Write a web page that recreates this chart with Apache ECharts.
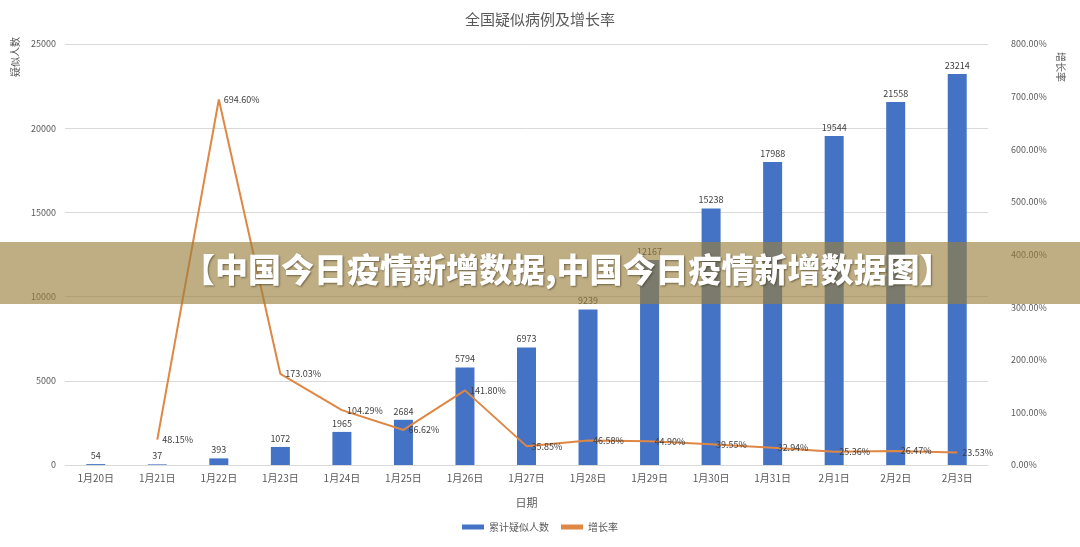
<!DOCTYPE html>
<html>
<head>
<meta charset="utf-8">
<script src="https://cdn.jsdelivr.net/npm/echarts@6/dist/echarts.min.js"></script>
<style>
  html, body { margin: 0; padding: 0; background: #fff; }
  #chart { width: 1080px; height: 547px; }
</style>
</head>
<body>
<div id="chart"></div>
<script>
// 日期
var dates = ['1月20日', '1月21日', '1月22日', '1月23日', '1月24日', '1月25日', '1月26日', '1月27日',
  '1月28日', '1月29日', '1月30日', '1月31日', '2月1日', '2月2日', '2月3日']
// 累计疑似人数
var suspected = [54, 37, 393, 1072, 1965, 2684, 5794, 6973, 9239, 12167, 15238, 17988, 19544, 21558, 23214]
// 增长率 (%)
var growth = [null, 48.15, 694.60, 173.03, 104.29, 66.62, 141.80, 35.85, 46.58, 44.90, 39.55, 32.94, 25.36, 26.47, 23.53]

var font = '"Noto Sans CJK SC", "Noto Sans", sans-serif'
var chart = echarts.init(document.getElementById('chart'))

chart.setOption({
  textStyle: { fontFamily: font },
  title: {
    text: '全国疑似病例及增长率',
    left: 'center',
    top: 7,
    textStyle: { fontSize: 15, fontWeight: 'normal', color: '#595959', fontFamily: font }
  },
  legend: {
    bottom: 10,
    left: 'center',
    itemWidth: 22,
    itemHeight: 5,
    itemGap: 12,
    textStyle: { fontSize: 10, color: '#595959' },
    data: [
      { name: '累计疑似人数', icon: 'rect' },
      { name: '增长率', icon: 'rect' }
    ]
  },
  grid: { left: 65, right: 92, top: 44, bottom: 82 },
  xAxis: {
    type: 'category',
    data: dates,
    name: '日期',
    nameLocation: 'middle',
    nameGap: 32,
    nameTextStyle: { fontSize: 11, color: '#595959' },
    axisLine: { lineStyle: { color: '#d9d9d9' } },
    axisTick: { length: 4, lineStyle: { color: '#d9d9d9' } },
    axisLabel: { fontSize: 10, color: '#595959', margin: 8 }
  },
  yAxis: [
    {
      type: 'value',
      min: 0,
      max: 25000,
      interval: 5000,
      axisLine: { show: false },
      axisTick: { show: false },
      axisLabel: {
        fontSize: 9,
        color: '#595959',
        margin: 9,
        formatter: function (v) { return String(v) }
      },
      splitLine: { lineStyle: { color: '#d9d9d9' } }
    },
    {
      type: 'value',
      min: 0,
      max: 800,
      interval: 100,
      axisLine: { show: false },
      axisTick: { show: false },
      splitLine: { show: false },
      axisLabel: {
        fontSize: 9,
        color: '#595959',
        margin: 23,
        formatter: function (v) { return v.toFixed(2) + '%' }
      }
    }
  ],
  series: [
    {
      name: '累计疑似人数',
      type: 'bar',
      data: suspected,
      barWidth: 19,
      itemStyle: { color: '#4472C4' },
      label: { show: true, position: 'top', fontSize: 9, color: '#404040', distance: 4 }
    },
    {
      name: '增长率',
      type: 'line',
      yAxisIndex: 1,
      data: growth,
      symbol: 'circle',
      symbolSize: 0,
      showSymbol: true,
      connectNulls: false,
      lineStyle: { width: 2, color: '#DF8744' },
      itemStyle: { color: '#DF8744' },
      label: {
        show: true,
        position: 'right',
        distance: 5,
        fontSize: 9,
        color: '#404040',
        formatter: function (p) { return p.value == null ? '' : p.value.toFixed(2) + '%' }
      }
    }
  ],
  graphic: [
    {
      type: 'text',
      left: 10,
      top: 37,
      rotation: Math.PI / 2,
      style: { text: '疑似人数', fontSize: 10, fill: '#595959', fontFamily: font }
    },
    {
      type: 'text',
      left: 1056,
      top: 52,
      rotation: -Math.PI / 2,
      style: { text: '增长率', fontSize: 10, fill: '#595959', fontFamily: font }
    },
    {
      type: 'rect',
      left: 0,
      top: 242,
      z: 100,
      shape: { width: 1080, height: 62 },
      style: { fill: 'rgba(154,126,58,0.63)' }
    },
    {
      type: 'text',
      left: 182,
      top: 253,
      z: 101,
      style: {
        text: '【中国今日疫情新增数据,中国今日疫情新增数据图】',
        fontSize: 33,
        fontWeight: 900,
        fill: '#ffffff',
        fontFamily: font,
        textShadowColor: 'rgba(60,50,30,0.6)',
        textShadowBlur: 2,
        textShadowOffsetX: 1,
        textShadowOffsetY: 1
      }
    }
  ]
})
</script>
</body>
</html>
